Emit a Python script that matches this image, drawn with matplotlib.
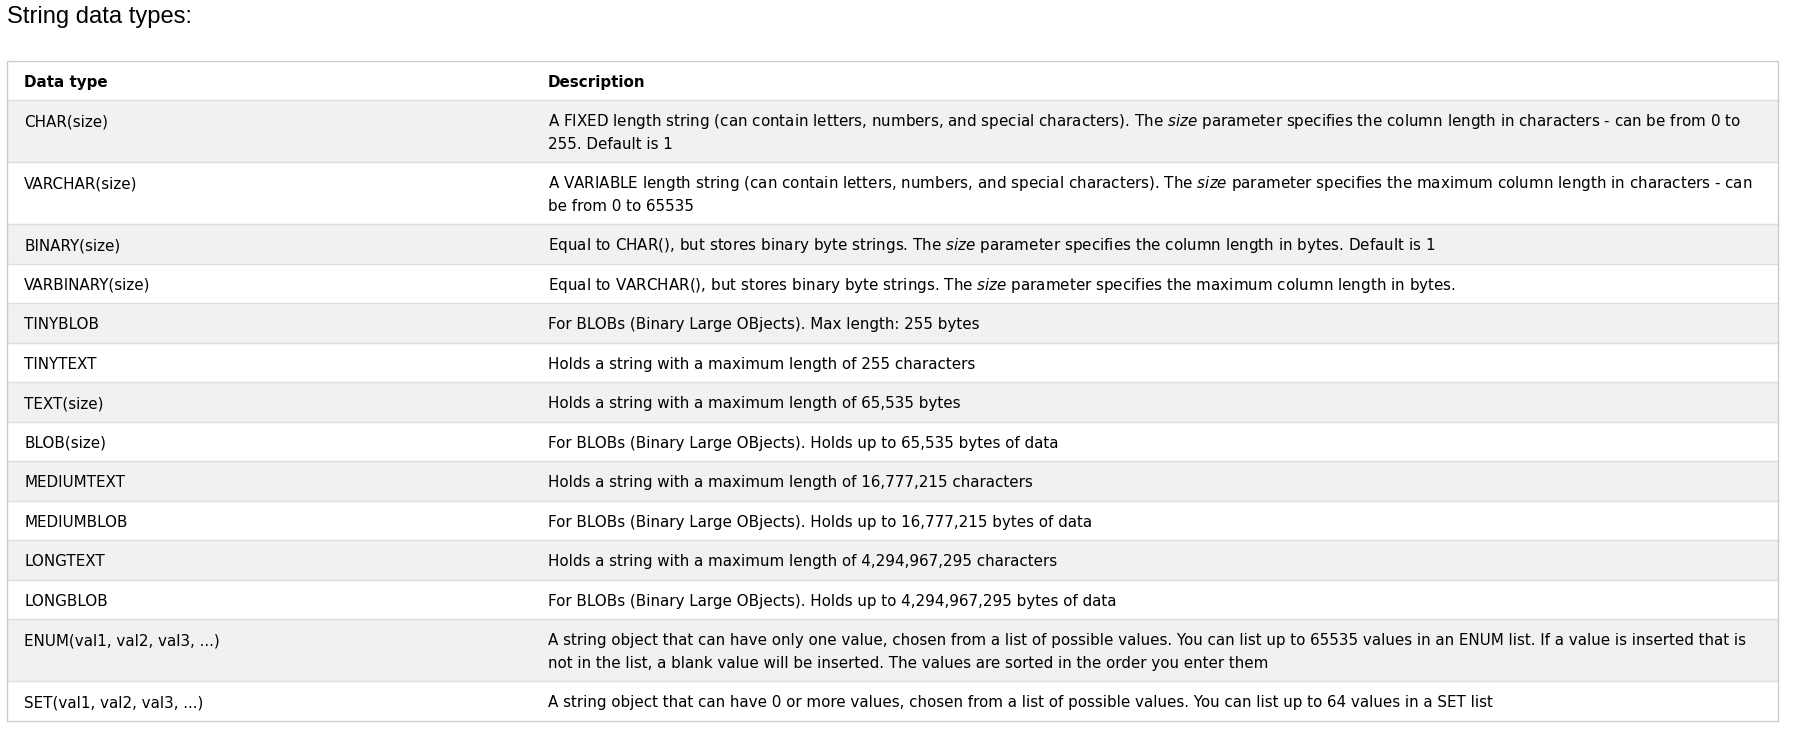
import matplotlib.pyplot as plt
from matplotlib.patches import Rectangle

plt.rcParams['mathtext.fontset'] = 'dejavusans'

title = 'String data types:'
header = ['Data type', 'Description']

data_types = [
    'CHAR(size)', 'VARCHAR(size)', 'BINARY(size)', 'VARBINARY(size)',
    'TINYBLOB', 'TINYTEXT', 'TEXT(size)', 'BLOB(size)', 'MEDIUMTEXT',
    'MEDIUMBLOB', 'LONGTEXT', 'LONGBLOB', 'ENUM(val1, val2, val3, ...)',
    'SET(val1, val2, val3, ...)',
]

# each description is a list of the wrapped lines as shown; $\mathit{..}$ marks italics
descriptions = [
    [r'A FIXED length string (can contain letters, numbers, and special characters). The $\mathit{size}$ parameter specifies the column length in characters - can be from 0 to',
     '255. Default is 1'],
    [r'A VARIABLE length string (can contain letters, numbers, and special characters). The $\mathit{size}$ parameter specifies the maximum column length in characters - can',
     'be from 0 to 65535'],
    [r'Equal to CHAR(), but stores binary byte strings. The $\mathit{size}$ parameter specifies the column length in bytes. Default is 1'],
    [r'Equal to VARCHAR(), but stores binary byte strings. The $\mathit{size}$ parameter specifies the maximum column length in bytes.'],
    ['For BLOBs (Binary Large OBjects). Max length: 255 bytes'],
    ['Holds a string with a maximum length of 255 characters'],
    ['Holds a string with a maximum length of 65,535 bytes'],
    ['For BLOBs (Binary Large OBjects). Holds up to 65,535 bytes of data'],
    ['Holds a string with a maximum length of 16,777,215 characters'],
    ['For BLOBs (Binary Large OBjects). Holds up to 16,777,215 bytes of data'],
    ['Holds a string with a maximum length of 4,294,967,295 characters'],
    ['For BLOBs (Binary Large OBjects). Holds up to 4,294,967,295 bytes of data'],
    ['A string object that can have only one value, chosen from a list of possible values. You can list up to 65535 values in an ENUM list. If a value is inserted that is',
     'not in the list, a blank value will be inserted. The values are sorted in the order you enter them'],
    ['A string object that can have 0 or more values, chosen from a list of possible values. You can list up to 64 values in a SET list'],
]

W, H = 1803, 748
fig = plt.figure(figsize=(W / 100, H / 100), dpi=100)
ax = fig.add_axes([0, 0, 1, 1])
ax.set_xlim(0, W)
ax.set_ylim(H, 0)
ax.axis('off')

fs = 10.88          # ~15px body text
line_h = 22.5
pad = 8
left, right = 7, 1778
col2 = 548
col1 = 24

ax.text(7, 22.5, title, fontsize=17.1, family='Liberation Sans', color='#000000', va='baseline')

rows = [(header, True)] + [([t, d], False) for t, d in zip(data_types, descriptions)]

y = 60.5
for i, (cells, is_head) in enumerate(rows):
    if is_head:
        n = 1
    else:
        n = len(cells[1])
    h = 2 * pad + n * line_h + 1
    bg = '#f1f1f1' if (i % 2 == 1) else '#ffffff'
    ax.add_patch(Rectangle((left, y), right - left, h, facecolor=bg, edgecolor='none', zorder=0))
    if i > 0:
        ax.plot([left, right], [y, y], color='#dddddd', lw=1, zorder=1)
    base = y + 1 + pad + 17.3
    if is_head:
        ax.text(col1, base, cells[0], fontsize=fs, fontweight='bold', va='baseline', color='#000000')
        ax.text(col2, base, cells[1], fontsize=fs, fontweight='bold', va='baseline', color='#000000')
    else:
        ax.text(col1, base, cells[0], fontsize=fs, va='baseline', color='#000000')
        for k, line in enumerate(cells[1]):
            ax.text(col2, base + k * line_h, line, fontsize=fs, va='baseline', color='#000000')
    y += h

ax.add_patch(Rectangle((left, 60.5), right - left, y - 60.5, facecolor='none',
                       edgecolor='#cccccc', lw=1, zorder=2))

fig.savefig('out.png', dpi=100)
